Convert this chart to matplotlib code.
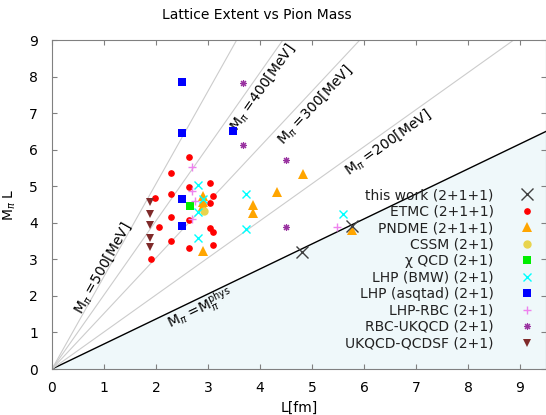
import numpy as np
import matplotlib.pyplot as plt

# L [fm] and M_pi*L for each collaboration
this_work_L = [4.81, 5.76]
this_work_ML = [3.19, 3.92]
etmc_L = [2.63, 2.28, 2.63, 3.03, 2.28, 3.09, 1.98, 3.03, 2.28, 2.63, 2.06, 3.03, 3.09, 2.28, 2.63, 3.09, 1.90]
etmc_ML = [5.79, 5.36, 4.99, 5.08, 4.80, 4.73, 4.69, 4.54, 4.17, 4.07, 3.88, 3.87, 3.74, 3.50, 3.32, 3.38, 3.01]
pndme_L = [2.90, 2.90, 2.90, 2.90, 3.86, 3.86, 4.33, 4.82, 5.77]
pndme_ML = [4.72, 4.58, 4.45, 3.22, 4.48, 4.26, 4.85, 5.33, 3.80]
cssm_L = [2.92]
cssm_ML = [4.32]
chiqcd_L = [2.65]
chiqcd_ML = [4.45]
lhp_bmw_L = [2.80, 2.90, 2.80, 2.80, 3.73, 3.73, 5.59]
lhp_bmw_ML = [5.03, 4.66, 4.30, 3.59, 4.80, 3.82, 4.24]
lhp_asqtad_L = [2.50, 2.50, 3.48, 2.50, 2.50]
lhp_asqtad_ML = [7.85, 6.45, 6.52, 4.66, 3.91]
lhp_rbc_L = [2.70, 2.70, 2.75, 2.70, 5.49]
lhp_rbc_ML = [5.53, 4.87, 4.60, 4.09, 3.88]
rbc_ukqcd_L = [3.67, 3.67, 4.50, 4.50]
rbc_ukqcd_ML = [7.83, 6.12, 5.72, 3.89]
ukqcd_qcdsf_L = [1.88, 1.88, 1.88, 1.88, 1.88]
ukqcd_qcdsf_ML = [4.57, 4.23, 3.94, 3.59, 3.33]

# reference lines M_pi = const
masses = [500, 400, 300, 200]
mass_label_pos = [(0.98, 2.75), (4.05, 7.71), (5.06, 7.23), (6.46, 6.21)]
m_phys = 135.0
phys_label_pos = (2.85, 1.65)
hbarc = 197.327

W, H = 546, 415
fig = plt.figure(figsize=(W / 100, H / 100), dpi=100)
ax = fig.add_axes([52 / W, (H - 369) / H, 494 / W, 329 / H])
ax.set_xlim(0, 9.5)
ax.set_ylim(0, 9)

L = np.linspace(0, 9.5, 200)
phys = m_phys / hbarc * L
ax.fill_between(L, 0, phys, color='#eff8fa', zorder=0)
ax.plot(L, phys, color='black', lw=1.0, zorder=1)
for m, (lx, ly) in zip(masses, mass_label_pos):
    s = m / hbarc
    ax.plot(L, s * L, color='#cccccc', lw=0.8, zorder=1)
    ax.text(lx, ly, r'M$_{\pi}$ =%d[MeV]' % m, rotation=np.degrees(np.arctan(s)),
            transform_rotates_text=True, rotation_mode='anchor',
            ha='center', va='center', fontsize=10)
ax.text(phys_label_pos[0], phys_label_pos[1], r'M$_{\pi}$ =M$_{\pi}^{\rm phys}$',
        rotation=np.degrees(np.arctan(m_phys / hbarc)), transform_rotates_text=True,
        rotation_mode='anchor', ha='center', va='center', fontsize=10)

ax.plot(this_work_L, this_work_ML, 'x', color='#404040', ms=9, mew=1.0, label='this work (2+1+1)', zorder=5)
ax.plot(etmc_L, etmc_ML, 'o', color='#ff0000', ms=3.8, label='ETMC (2+1+1)', zorder=4)
ax.plot(pndme_L, pndme_ML, '^', color='#ffa500', ms=6.5, mew=0, label='PNDME (2+1+1)', zorder=4)
ax.plot(cssm_L, cssm_ML, 'o', color='#e8d44d', ms=5, label='CSSM (2+1)', zorder=4)
ax.plot(chiqcd_L, chiqcd_ML, 's', color='#00ee00', ms=5.5, mew=0, label='χ QCD (2+1)', zorder=4)
ax.plot(lhp_bmw_L, lhp_bmw_ML, 'x', color='#00ffff', ms=6, mew=1.0, label='LHP (BMW) (2+1)', zorder=4)
ax.plot(lhp_asqtad_L, lhp_asqtad_ML, 's', color='#0000ff', ms=5.5, mew=0, label='LHP (asqtad) (2+1)', zorder=4)
ax.plot(lhp_rbc_L, lhp_rbc_ML, '+', color='#ee82ee', ms=6, mew=1.0, label='LHP-RBC (2+1)', zorder=4)
ax.plot(rbc_ukqcd_L, rbc_ukqcd_ML, marker=(8, 2, 0), ls='none', color='#9932a0', ms=5, mew=0.8,
        label='RBC-UKQCD (2+1)', zorder=4)
ax.plot(ukqcd_qcdsf_L, ukqcd_qcdsf_ML, 'v', color='#7f2a2a', ms=6, mew=0, label='UKQCD-QCDSF (2+1)', zorder=4)

ax.set_xticks(range(0, 10))
ax.set_yticks(range(0, 10))
ax.tick_params(direction='in', top=True, right=True, length=3.5, color='#808080', labelsize=10)
ax.tick_params(axis='x', pad=8.5)
ax.tick_params(axis='y', pad=10)
for sp in ax.spines.values():
    sp.set_color('#808080')

ax.set_xlabel('L[fm]', fontsize=10, labelpad=4)
ax.set_ylabel(r'M$_{\pi}$ L', fontsize=10, labelpad=8)
fig.text(257 / W, 1 - 15 / H, 'Lattice Extent vs Pion Mass', ha='center', va='center', fontsize=10)

leg = ax.legend(loc='upper right', bbox_to_anchor=(534 / W, 1 - 188 / H), bbox_transform=fig.transFigure,
                markerfirst=False, frameon=False, fontsize=10, handlelength=1, handletextpad=1.9,
                labelspacing=0.18, borderpad=0, borderaxespad=0)
for t in leg.get_texts():
    t.set_color('#222222')

fig.savefig('out.png', dpi=100)
